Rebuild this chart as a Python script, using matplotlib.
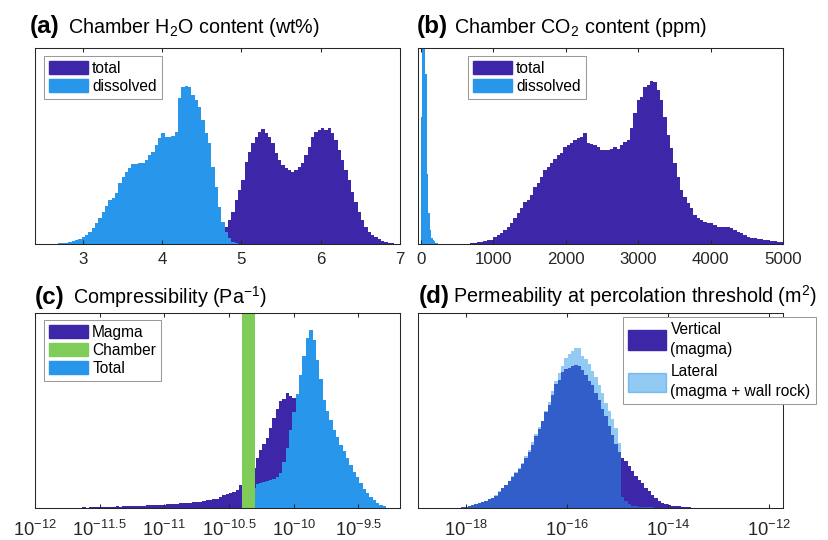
import numpy as np
import matplotlib
matplotlib.use("Agg")
import matplotlib.pyplot as plt
from matplotlib.patches import Patch
from matplotlib.ticker import FixedLocator, FixedFormatter, NullLocator

plt.rcParams['font.family'] = ['Liberation Sans', 'DejaVu Sans']
plt.rcParams['mathtext.fontset'] = 'custom'
plt.rcParams['mathtext.rm'] = 'Liberation Sans'
plt.rcParams['mathtext.it'] = 'Liberation Sans:italic'
plt.rcParams['mathtext.bf'] = 'Liberation Sans:bold'

PURPLE = '#3E26A8'
BLUE = '#2796EB'
GREEN = '#7FCC59'
TXT = '#262626'

# ---------------- (a) Chamber H2O content (wt%) ----------------
h2o_bin_width = 0.0419
h2o_dissolved_first = 2.715
h2o_dissolved = [0.003, 0.005, 0.007, 0.012, 0.017, 0.021, 0.027, 0.035, 0.046, 0.062,
                 0.08, 0.106, 0.131, 0.165, 0.195, 0.225, 0.235, 0.26, 0.31, 0.34,
                 0.37, 0.39, 0.41, 0.41, 0.415, 0.416, 0.43, 0.455, 0.47, 0.506,
                 0.54, 0.566, 0.549, 0.545, 0.55, 0.57, 0.745, 0.80, 0.808, 0.80,
                 0.76, 0.736, 0.70, 0.634, 0.566, 0.514, 0.395, 0.293, 0.19, 0.114,
                 0.06, 0.03, 0.012, 0.005]
h2o_total_first = 4.6436
h2o_total = [0.005, 0.012, 0.025, 0.045, 0.085, 0.123, 0.165, 0.225, 0.276, 0.327,
             0.42, 0.47, 0.514, 0.549, 0.574, 0.586, 0.566, 0.549, 0.514, 0.463,
             0.43, 0.404, 0.387, 0.378, 0.37, 0.378, 0.395, 0.412, 0.455, 0.497,
             0.549, 0.574, 0.583, 0.591, 0.583, 0.591, 0.566, 0.531, 0.48, 0.43,
             0.378, 0.327, 0.267, 0.216, 0.165, 0.123, 0.089, 0.063, 0.046, 0.034,
             0.024, 0.016, 0.01, 0.006, 0.003, 0.001]
h2o_ticks = [3, 4, 5, 6, 7]

# ---------------- (b) Chamber CO2 content (ppm) ----------------
co2_total_width = 46.0
co2_total_first = 607.0
co2_total = [0.002, 0.002, 0.003, 0.005, 0.008, 0.012, 0.015, 0.018, 0.02, 0.034,
             0.045, 0.055, 0.07, 0.089, 0.109, 0.131, 0.157, 0.182, 0.216, 0.225,
             0.25, 0.29, 0.31, 0.344, 0.378, 0.395, 0.412, 0.433, 0.455, 0.463,
             0.497, 0.506, 0.518, 0.531, 0.54, 0.549, 0.566, 0.514, 0.511, 0.506,
             0.497, 0.48, 0.48, 0.48, 0.484, 0.497, 0.484, 0.506, 0.523, 0.531,
             0.591, 0.668, 0.736, 0.753, 0.80, 0.813, 0.833, 0.83, 0.787, 0.736,
             0.65, 0.557, 0.489, 0.412, 0.344, 0.276, 0.242, 0.208, 0.182, 0.148,
             0.131, 0.123, 0.114, 0.109, 0.106, 0.097, 0.089, 0.085, 0.085, 0.085,
             0.08, 0.072, 0.063, 0.055, 0.046, 0.034, 0.031, 0.029, 0.026, 0.024,
             0.022, 0.02, 0.017, 0.014, 0.012, 0.01]
co2_dissolved_width = 20.0
co2_dissolved_first = 10.0
co2_dissolved = [0.65, 3.0, 2.0, 0.87, 0.36, 0.157, 0.07, 0.03, 0.02, 0.015, 0.007, 0.003]
co2_ticks = [0, 1000, 2000, 3000, 4000, 5000]

# ---------------- (c) Compressibility (Pa^-1), log10 bins ----------------
comp_bin_width = 0.0258
comp_magma_first = -11.75
comp_magma = [0.002, 0.002, 0.003, 0.003, 0.004, 0.005, 0.004, 0.005, 0.006, 0.006,
              0.007, 0.007, 0.008, 0.008, 0.009, 0.010, 0.009, 0.011, 0.011, 0.012,
              0.012, 0.013, 0.014, 0.013, 0.015, 0.016, 0.016, 0.017, 0.018, 0.019,
              0.020, 0.021, 0.022, 0.024, 0.025, 0.026, 0.028, 0.029, 0.031, 0.033,
              0.034, 0.037, 0.040, 0.042, 0.045, 0.048, 0.058, 0.068, 0.072, 0.078,
              0.085, 0.094, 0.12, 0.14, 0.16, 0.18, 0.205, 0.255, 0.30, 0.33,
              0.36, 0.41, 0.46, 0.51, 0.548, 0.56, 0.59, 0.575, 0.565, 0.54,
              0.50, 0.45, 0.40, 0.35, 0.30, 0.25, 0.20, 0.16, 0.12, 0.09,
              0.06, 0.04, 0.025, 0.015, 0.008, 0.004]
comp_chamber_first = -10.388
comp_chamber = [3.0, 8.0, 6.5, 2.2]
comp_total_first = -10.3052
comp_total = [0.105, 0.125, 0.13, 0.135, 0.14, 0.145, 0.15, 0.16, 0.18, 0.235,
              0.31, 0.40, 0.49, 0.585, 0.68, 0.78, 0.87, 0.91, 0.86, 0.76,
              0.66, 0.555, 0.50, 0.45, 0.40, 0.365, 0.324, 0.295, 0.256, 0.222,
              0.188, 0.16, 0.128, 0.10, 0.078, 0.058, 0.042, 0.028, 0.017, 0.01,
              0.004]
comp_tick_exp = [-12, -11.5, -11, -10.5, -10, -9.5]
comp_tick_labels = ['$10^{-12}$', '$10^{-11.5}$', '$10^{-11}$', '$10^{-10.5}$',
                    '$10^{-10}$', '$10^{-9.5}$']

# ---------------- (d) Permeability at percolation threshold (m^2) ----------------
perm_bin_width = 0.066
perm_first = -18.2
perm_vertical = [0.002, 0.003, 0.005, 0.008, 0.014, 0.018, 0.022, 0.027, 0.031, 0.038,
                 0.045, 0.052, 0.065, 0.084, 0.102, 0.118, 0.138, 0.158, 0.18, 0.2,
                 0.226, 0.258, 0.29, 0.325, 0.368, 0.405, 0.445, 0.49, 0.53, 0.58,
                 0.635, 0.658, 0.695, 0.71, 0.715, 0.727, 0.733, 0.727, 0.705, 0.68,
                 0.652, 0.628, 0.59, 0.552, 0.51, 0.47, 0.42, 0.375, 0.33, 0.29,
                 0.258, 0.24, 0.215, 0.19, 0.165, 0.147, 0.13, 0.105, 0.088, 0.07,
                 0.053, 0.038, 0.029, 0.022, 0.017, 0.014, 0.012, 0.01, 0.008, 0.007,
                 0.005, 0.004, 0.003, 0.002, 0.002]
perm_lateral = [0.002, 0.003, 0.005, 0.008, 0.014, 0.018, 0.022, 0.027, 0.032, 0.039,
                0.046, 0.054, 0.067, 0.086, 0.105, 0.121, 0.142, 0.163, 0.186, 0.207,
                0.234, 0.266, 0.30, 0.337, 0.38, 0.415, 0.445, 0.50, 0.545, 0.60,
                0.65, 0.69, 0.725, 0.77, 0.79, 0.806, 0.822, 0.82, 0.78, 0.762,
                0.738, 0.70, 0.67, 0.63, 0.59, 0.54, 0.495, 0.455, 0.41, 0.335,
                0.06, 0.035, 0.022, 0.014, 0.01, 0.008, 0.007, 0.006, 0.005, 0.005,
                0.004, 0.004, 0.003, 0.003, 0.003, 0.002, 0.002, 0.002, 0.002, 0.001,
                0.001, 0.001, 0.001, 0.001, 0.001]
perm_tick_exp = [-18, -16, -14, -12]
perm_tick_labels = ['$10^{-18}$', '$10^{-16}$', '$10^{-14}$', '$10^{-12}$']

# ---------------- figure ----------------
W, H = 829, 540
fig = plt.figure(figsize=(W / 100, H / 100), dpi=100)


def px_axes(l, t, r, b):
    return fig.add_axes([l / W, 1 - b / H, (r - l) / W, (b - t) / H])


axA = px_axes(35, 48.3, 400, 244)
axB = px_axes(418.3, 48.3, 783.3, 244)
axC = px_axes(35, 312.7, 400, 508.3)
axD = px_axes(418.3, 312.7, 783.3, 508.3)


def edges_from(first_center, width, n):
    return first_center - width / 2 + width * np.arange(n + 1)


def hist(ax, first, width, vals, color, alpha=1.0, log=False):
    e = edges_from(first, width, len(vals))
    if log:
        e = 10.0 ** e
    ax.stairs(vals, e, fill=True, color=color, alpha=alpha, linewidth=0)


def style(ax, pad=5.5, size=12.2):
    for s in ax.spines.values():
        s.set_linewidth(0.75)
        s.set_color(TXT)
    ax.tick_params(axis='x', which='major', direction='in', length=2.6, width=0.75,
                   top=True, bottom=True, labelsize=size, colors=TXT, pad=pad)
    ax.set_yticks([])
    ax.set_ylim(0, 1)


def legend(ax, handles, labels, anchor, loc='upper left', hh=0.92, ls=0.18):
    leg = ax.legend(handles, labels, loc=loc, bbox_to_anchor=anchor, fontsize=11.2,
                    handlelength=2.45, handleheight=hh, handletextpad=0.3,
                    borderpad=0.33, labelspacing=ls, borderaxespad=0,
                    fancybox=False, framealpha=1, edgecolor='#9a9a9a')
    leg.get_frame().set_linewidth(0.75)
    for t in leg.get_texts():
        t.set_color('black')
    return leg


def title(x_bold, x_text, y_base, tag, text):
    fig.text(x_bold / W, 1 - y_base / H, tag, fontsize=17.5, fontweight='bold',
             va='baseline', ha='left')
    fig.text(x_text / W, 1 - y_base / H, text, fontsize=14.2,
             va='baseline', ha='left')


# (a)
hist(axA, h2o_total_first, h2o_bin_width, h2o_total, PURPLE)
hist(axA, h2o_dissolved_first, h2o_bin_width, h2o_dissolved, BLUE)
axA.set_xlim(2.4, 7)
axA.set_xticks(h2o_ticks)
style(axA)
legend(axA, [Patch(color=PURPLE), Patch(color=BLUE)], ['total', 'dissolved'],
       (0.0255, 0.9607))
title(30, 68.3, 33, '(a)', 'Chamber H$_2$O content (wt%)')

# (b)
hist(axB, co2_total_first, co2_total_width, co2_total, PURPLE)
hist(axB, co2_dissolved_first, co2_dissolved_width, co2_dissolved, BLUE)
axB.set_xlim(-37, 5000)
axB.set_xticks(co2_ticks)
style(axB)
legend(axB, [Patch(color=PURPLE), Patch(color=BLUE)], ['total', 'dissolved'],
       (0.137, 0.9607))
title(416.7, 454.3, 33, '(b)', 'Chamber CO$_2$ content (ppm)')

# (c)
axC.set_xscale('log')
hist(axC, comp_magma_first, comp_bin_width, comp_magma, PURPLE, log=True)
hist(axC, comp_total_first, comp_bin_width, comp_total, BLUE, log=True)
hist(axC, comp_chamber_first, comp_bin_width, comp_chamber, GREEN, log=True)
axC.set_xlim(1e-12, 10 ** -9.177)
axC.xaxis.set_major_locator(FixedLocator([10.0 ** e for e in comp_tick_exp]))
axC.xaxis.set_major_formatter(FixedFormatter(comp_tick_labels))
axC.xaxis.set_minor_locator(NullLocator())
style(axC, pad=8.5, size=13.2)
legend(axC, [Patch(color=PURPLE), Patch(color=GREEN), Patch(color=BLUE)],
       ['Magma', 'Chamber', 'Total'], (0.0255, 0.9627))
title(35, 73.3, 304, '(c)', 'Compressibility (Pa$^{-1}$)')

# (d)
axD.set_xscale('log')
hist(axD, perm_first, perm_bin_width, perm_vertical, PURPLE, log=True)
hist(axD, perm_first, perm_bin_width, perm_lateral, BLUE, alpha=0.5, log=True)
axD.set_xlim(10 ** -18.945, 10 ** -11.717)
axD.xaxis.set_major_locator(FixedLocator([10.0 ** e for e in perm_tick_exp]))
axD.xaxis.set_major_formatter(FixedFormatter(perm_tick_labels))
axD.xaxis.set_minor_locator(NullLocator())
style(axD, pad=8.5, size=13.2)
legD = legend(axD, [Patch(color=PURPLE), Patch(color=BLUE, alpha=0.5)],
              ['Vertical\n(magma)', 'Lateral\n(magma + wall rock)'],
              (1.0888, 0.9796), loc='upper right', hh=1.55, ls=0.5)
for t in legD.get_texts():
    t.set_linespacing(1.4)
title(418.3, 453.3, 303, '(d)', 'Permeability at percolation threshold (m$^2$)')

fig.savefig('out.png', dpi=100)
